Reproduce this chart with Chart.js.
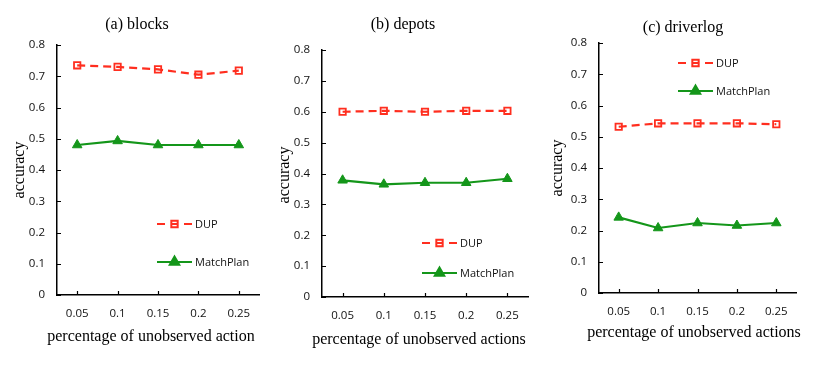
<!DOCTYPE html>
<html>
<head>
    <title>Accuracy vs unobserved actions</title>
    <script src="https://cdn.jsdelivr.net/npm/chart.js"></script>
    <style>
        body { margin: 0; background: #fff; }
        .panel { position: absolute; top: 0; height: 377px; }
    </style>
</head>
<body>
    <div class="panel" style="left:0;width:270px"><canvas id="chart-a"></canvas></div>
    <div class="panel" style="left:270px;width:270px"><canvas id="chart-b"></canvas></div>
    <div class="panel" style="left:540px;width:282px"><canvas id="chart-c"></canvas></div>

    <script>
        // data
        const percentages = ['0.05', '0.1', '0.15', '0.2', '0.25'];
        const yTicks = [0, 0.1, 0.2, 0.3, 0.4, 0.5, 0.6, 0.7, 0.8];

        const blocksDUP = [0.735, 0.730, 0.722, 0.705, 0.718];
        const blocksMatchPlan = [0.480, 0.493, 0.480, 0.480, 0.480];

        const depotsDUP = [0.600, 0.603, 0.600, 0.603, 0.603];
        const depotsMatchPlan = [0.378, 0.365, 0.370, 0.370, 0.383];

        const driverlogDUP = [0.532, 0.543, 0.543, 0.543, 0.540];
        const driverlogMatchPlan = [0.242, 0.208, 0.224, 0.216, 0.224];

        const RED = '#ff2e1f';
        const GREEN = '#14961a';
        const serif = '"Liberation Serif", "Times New Roman", serif';
        const sans = '"Open Sans", "Noto Sans", sans-serif';

        // panel layout (pixels inside each canvas)
        const panels = [
            { id: 'chart-a', title: '(a) blocks', xTitle: 'percentage of unobserved action',
              dup: blocksDUP, mp: blocksMatchPlan, w: 270,
              area: { left: 57, top: 45, right: 259, bottom: 295 },
              titlePos: [137, 25], xTitlePos: [151, 337], yTitlePos: [20, 170],
              legendPos: [157, 224, 262] },
            { id: 'chart-b', title: '(b) depots', xTitle: 'percentage of unobserved actions',
              dup: depotsDUP, mp: depotsMatchPlan, w: 270,
              area: { left: 52, top: 50, right: 258, bottom: 297 },
              titlePos: [133, 25], xTitlePos: [149, 340], yTitlePos: [15, 175],
              legendPos: [152, 243, 273] },
            { id: 'chart-c', title: '(c) driverlog', xTitle: 'percentage of unobserved actions',
              dup: driverlogDUP, mp: driverlogMatchPlan, w: 282,
              area: { left: 59, top: 43, right: 256, bottom: 293 },
              titlePos: [143, 28], xTitlePos: [154, 333], yTitlePos: [18, 168],
              legendPos: [138, 63, 91] }
        ];

        // inward tick marks, like the original excel style
        const innerTicks = {
            id: 'innerTicks',
            afterDatasetsDraw(chart) {
                const ctx = chart.ctx;
                const x = chart.scales.x, y = chart.scales.y;
                const a = chart.chartArea;
                ctx.save();
                ctx.strokeStyle = '#000';
                ctx.lineWidth = 1.2;
                ctx.beginPath();
                y.ticks.forEach(t => {
                    const py = Math.round(y.getPixelForValue(t.value)) + 0.5;
                    ctx.moveTo(a.left, py); ctx.lineTo(a.left + 4, py);
                });
                x.ticks.forEach((t, i) => {
                    const px = Math.round(x.getPixelForTick(i)) + 0.5;
                    ctx.moveTo(px, a.bottom); ctx.lineTo(px, a.bottom - 4);
                });
                ctx.stroke();
                ctx.restore();
            }
        };

        // draws the titles and the little legend box
        const decorations = {
            id: 'decorations',
            afterDraw(chart, args, opts) {
                const ctx = chart.ctx;
                const p = opts.panel;
                ctx.save();
                ctx.fillStyle = '#000';
                ctx.font = '16px ' + serif;
                ctx.textAlign = 'center';
                ctx.textBaseline = 'middle';
                ctx.fillText(p.title, p.titlePos[0], p.titlePos[1]);
                ctx.fillText(p.xTitle, p.xTitlePos[0], p.xTitlePos[1]);
                ctx.save();
                ctx.translate(p.yTitlePos[0], p.yTitlePos[1]);
                ctx.rotate(-Math.PI / 2);
                ctx.fillText('accuracy', 0, 0);
                ctx.restore();

                // legend
                const lx = p.legendPos[0];
                chart.data.datasets.forEach((ds, i) => {
                    const ly = p.legendPos[1 + i];
                    ctx.strokeStyle = ds.borderColor;
                    ctx.lineWidth = 2;
                    ctx.beginPath();
                    if (ds.borderDash) {
                        ctx.moveTo(lx, ly); ctx.lineTo(lx + 8, ly);
                        ctx.moveTo(lx + 14, ly); ctx.lineTo(lx + 21, ly);
                        ctx.moveTo(lx + 27, ly); ctx.lineTo(lx + 35, ly);
                    } else {
                        ctx.moveTo(lx, ly); ctx.lineTo(lx + 35, ly);
                    }
                    ctx.stroke();
                    ctx.fillStyle = ds.pointBackgroundColor;
                    Chart.helpers.drawPoint(ctx, {
                        pointStyle: ds.pointStyle,
                        radius: ds.pointRadius,
                        borderWidth: ds.pointBorderWidth
                    }, lx + 17.5, ly);
                    ctx.fillStyle = '#111';
                    ctx.font = '11px ' + sans;
                    ctx.textAlign = 'left';
                    ctx.fillText(ds.label, lx + 38, ly + 1);
                });
                ctx.restore();
            }
        };

        function makeChart(p) {
            const ctx = document.getElementById(p.id).getContext('2d');
            return new Chart(ctx, {
                type: 'line',
                data: {
                    labels: percentages,
                    datasets: [{
                        label: 'DUP',
                        data: p.dup,
                        borderColor: RED,
                        borderWidth: 2.2,
                        borderDash: [8, 5],
                        pointStyle: 'rect',
                        pointRadius: 4.5,
                        pointBorderWidth: 1.8,
                        pointBorderColor: RED,
                        pointBackgroundColor: 'rgba(255,255,255,0)',
                        fill: false
                    },
                    {
                        label: 'MatchPlan',
                        data: p.mp,
                        borderColor: GREEN,
                        borderWidth: 2.2,
                        pointStyle: 'triangle',
                        pointRadius: 5.5,
                        pointBorderWidth: 1,
                        pointBorderColor: GREEN,
                        pointBackgroundColor: GREEN,
                        fill: false
                    }]
                },
                options: {
                    responsive: true,
                    maintainAspectRatio: false,
                    animation: false,
                    layout: {
                        padding: { left: 0, top: p.area.top, right: p.w - p.area.right, bottom: 0 }
                    },
                    plugins: {
                        legend: { display: false },
                        tooltip: { enabled: false },
                        decorations: { panel: p }
                    },
                    scales: {
                        x: {
                            offset: true,
                            grid: { display: false, drawTicks: false },
                            border: { display: true, color: '#000', width: 1.5 },
                            ticks: { color: '#111', font: { family: sans, size: 11.5 }, padding: 12, maxRotation: 0 },
                            afterFit: s => { s.height = 377 - p.area.bottom; }
                        },
                        y: {
                            min: 0,
                            max: 0.8,
                            afterBuildTicks: s => { s.ticks = yTicks.map(v => ({ value: v })); },
                            grid: { display: false, drawTicks: false },
                            border: { display: true, color: '#000', width: 1.5 },
                            ticks: {
                                color: '#111',
                                font: { family: sans, size: 11.5 },
                                padding: 12,
                                callback: v => String(+v.toFixed(1))
                            },
                            afterFit: s => { s.width = p.area.left; }
                        }
                    }
                },
                plugins: [innerTicks, decorations]
            });
        }

        panels.forEach(makeChart);
    </script>
</body>
</html>
